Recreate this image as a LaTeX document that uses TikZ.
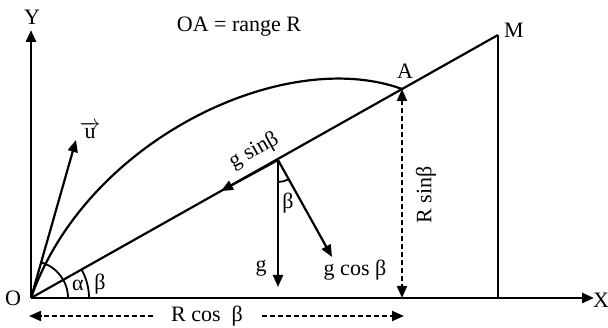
\documentclass[tikz,border=0pt]{standalone}
\usepackage{fontspec}
\setmainfont{Liberation Serif}
\usetikzlibrary{arrows.meta}
\begin{document}
\begin{tikzpicture}[x=1pt,y=-1pt,line width=2.2pt,
  >={Triangle[length=12pt,width=10pt]},
  lbl/.style={font=\fontsize{22}{26}\selectfont,inner sep=0pt},
  dimline/.style={line width=2pt,dash pattern=on 5pt off 3pt},
  anglearc/.style={line width=1.8pt}]
\useasboundingbox (0,0) rectangle (608,328);
% points
\coordinate (O) at (31,298);
\coordinate (Ytip) at (31,30);
\coordinate (Xtip) at (594,298);
\coordinate (M) at (498,35);
\coordinate (Mf) at (498,298);
\coordinate (A) at (402,89);
\coordinate (Af) at (402,298);
\coordinate (P) at (278,160);
\coordinate (Mid) at (221,191);
\coordinate (gtip) at (278,287);
\coordinate (gctip) at (332,257);
\coordinate (utip) at (76,140);
\coordinate (L1) at (29,316);
\coordinate (L2) at (153,316);
\coordinate (R1) at (262,316);
\coordinate (R2) at (404,316);
% axes
\draw[->,line width=2.6pt] (O) -- (Ytip);
\draw[->,line width=2.6pt] (O) -- (Xtip);
% incline
\draw (O) -- (M);
\draw[->] (P) -- (Mid);
\draw (M) -- (Mf);
% trajectory
\draw (O) .. controls (86,140) and (284,46) .. (A);
% u
\draw[->] (O) -- (utip);
% forces
\draw[->] (P) -- (gtip);
\draw[->] (P) -- (gctip);
% angles
\draw[anglearc] (68,298) arc[start angle=0,end angle=-74,radius=37];
\draw[anglearc] (89,298) arc[start angle=0,end angle=-29.4,radius=58];
\draw[anglearc] (278,182) arc[start angle=90,end angle=61,radius=22];
% dimensions
\draw[<->,dimline] (A) -- (Af);
\draw[->,dimline] (L2) -- (L1);
\draw[->,dimline] (R1) -- (R2);
% labels
\node[lbl] (lY) at (32,17) {Y};
\node[lbl] (lX) at (601,300) {X};
\node[lbl] (lO) at (13,298) {O};
\node[lbl] (lM) at (514,30) {M};
\node[lbl] (lA) at (405,71) {A};
\node[lbl] (title) at (239,27) {OA = range R};
\node[lbl] (lu) at (90,130) {$\overrightarrow{\mbox{u}}$};
\node[lbl] (lal) at (78,285) {α};
\node[lbl] (lbe) at (100,284) {β};
\node[lbl,rotate=29.4] (lgs) at (254,151) {g sinβ};
\node[lbl] (lbp) at (288,203) {β};
\node[lbl] (lg) at (261,268) {g};
\node[lbl] (lgc) at (355,270) {g cos β};
\node[lbl,rotate=90] (lRs) at (426,195) {R sinβ};
\node[lbl] (lRc) at (207,316) {R cos\ \ β};
\end{tikzpicture}
\end{document}
